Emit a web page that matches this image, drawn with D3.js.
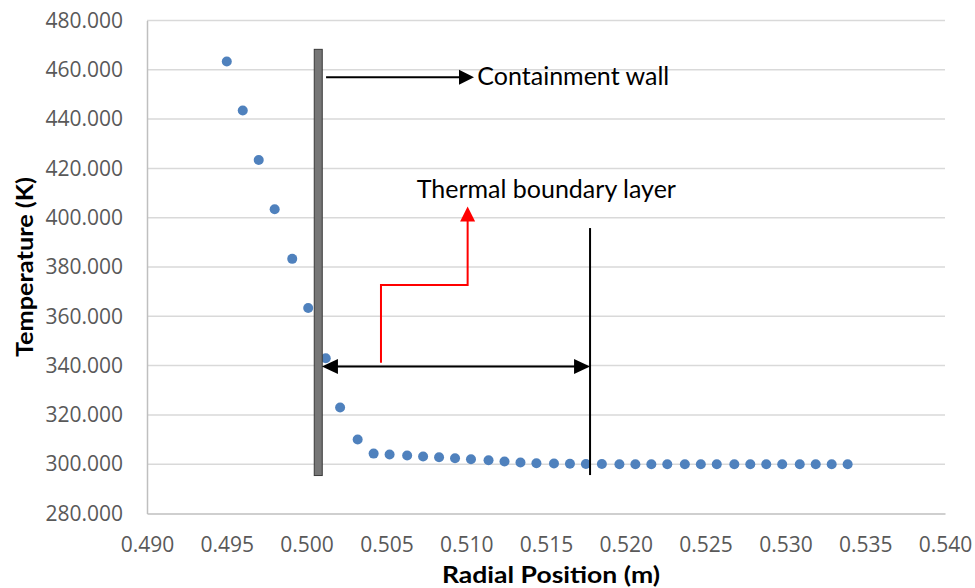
<!DOCTYPE html>
<html>
<head>
<meta charset="utf-8">
<script src="https://cdn.jsdelivr.net/npm/d3@7"></script>
<style>
  html, body { margin: 0; padding: 0; background: #fff; }
  svg { display: block; }
</style>
</head>
<body>
<svg id="chart" width="975" height="588"></svg>
<script>
// ---- data ----
const radialPosition = [
  0.4950, 0.4960, 0.4970, 0.4980, 0.4991, 0.5001, 0.5012, 0.5021, 0.5032, 0.5042,
  0.5052, 0.5063, 0.5073, 0.5083, 0.5093, 0.5103, 0.5114, 0.5124, 0.5134, 0.5144,
  0.5155, 0.5165, 0.5175, 0.5185, 0.5196, 0.5206, 0.5216, 0.5226, 0.5237, 0.5247,
  0.5257, 0.5268, 0.5278, 0.5288, 0.5298, 0.5309, 0.5319, 0.5329, 0.5339
];
const temperature = [
  463.4, 443.5, 423.4, 403.4, 383.3, 363.4, 343.0, 323.0, 310.0, 304.3,
  303.9, 303.5, 303.1, 302.8, 302.4, 302.0, 301.6, 301.1, 300.7, 300.4,
  300.3, 300.2, 300.1, 300.1, 300.0, 300.0, 300.0, 300.0, 300.0, 300.0,
  300.0, 300.0, 300.0, 300.0, 300.0, 300.0, 300.0, 300.0, 300.0
];
const xTicks = [0.490, 0.495, 0.500, 0.505, 0.510, 0.515, 0.520, 0.525, 0.530, 0.535, 0.540];
const yTicks = [280, 300, 320, 340, 360, 380, 400, 420, 440, 460, 480];
const xTitle = "Radial Position (m)";
const yTitle = "Temperature (K)";

// annotations (data units)
const wall = { x: 0.50073, top: 468.3, bottom: 295.4 };
const layerEdge = { x: 0.51776, top: 395.8, bottom: 295.6 };
const spanArrow = { x0: 0.50096, x1: 0.51776, y: 339.6 };
const wallArrow = { x0: 0.50122, x1: 0.51049, y: 457.0 };
const redArrow = [ [0.50466, 341.2], [0.50466, 372.7], [0.51009, 372.7], [0.51009, 404.5] ];
const labels = [
  { text: "Containment wall", x: 0.51070, y: 453.8 },
  { text: "Thermal boundary layer", x: 0.50690, y: 407.9 }
];

// ---- chart ----
const svg = d3.select("#chart");
const x = d3.scaleLinear().domain([0.490, 0.540]).range([147, 945]);
const y = d3.scaleLinear().domain([280, 480]).range([513.5, 20.5]);

// gridlines
svg.append("g").selectAll("line").data(yTicks.filter(d => d !== 280)).join("line")
  .attr("x1", x(0.490)).attr("x2", x(0.540))
  .attr("y1", d => y(d)).attr("y2", d => y(d))
  .attr("stroke", "#d9d9d9").attr("stroke-width", 1.5);

// axes
const xAxis = svg.append("g").attr("transform", `translate(0,${y(280)})`)
  .call(d3.axisBottom(x).tickValues(xTicks).tickFormat(d3.format(".3f")).tickSize(0).tickPadding(24));
const yAxis = svg.append("g").attr("transform", `translate(${x(0.490)},0)`)
  .call(d3.axisLeft(y).tickValues(yTicks).tickFormat(d3.format(".3f")).tickSize(0).tickPadding(24));
[xAxis, yAxis].forEach(g => {
  g.select(".domain").attr("stroke", "#bfbfbf").attr("stroke-width", 1.5);
  g.selectAll("text").attr("fill", "#595959")
    .style("font-family", "'Open Sans', sans-serif").style("font-size", "21px");
});
xAxis.selectAll("text").attr("dy", "0.71em");

// axis titles
svg.append("text").attr("x", 551).attr("y", 583)
  .attr("text-anchor", "middle")
  .attr("textLength", 218).attr("lengthAdjust", "spacingAndGlyphs")
  .style("font-family", "Lato, sans-serif").style("font-weight", "bold").style("font-size", "23px")
  .attr("fill", "#000").text(xTitle);
svg.append("text").attr("transform", `translate(33,${(y(280) + y(480)) / 2}) rotate(-90)`)
  .attr("text-anchor", "middle")
  .attr("textLength", 180).attr("lengthAdjust", "spacingAndGlyphs")
  .style("font-family", "Lato, sans-serif").style("font-weight", "bold").style("font-size", "23px")
  .attr("fill", "#000").text(yTitle);

// data points
svg.append("g").selectAll("circle").data(radialPosition.map((r, i) => [r, temperature[i]])).join("circle")
  .attr("cx", d => x(d[0])).attr("cy", d => y(d[1])).attr("r", 5)
  .attr("fill", "#4f81bd");

// wall
svg.append("rect")
  .attr("x", x(wall.x) - 4).attr("width", 8)
  .attr("y", y(wall.top)).attr("height", y(wall.bottom) - y(wall.top))
  .attr("fill", "#767676").attr("stroke", "#3a3a3a").attr("stroke-width", 1);

// boundary layer edge line
svg.append("line")
  .attr("x1", x(layerEdge.x)).attr("x2", x(layerEdge.x))
  .attr("y1", y(layerEdge.top)).attr("y2", y(layerEdge.bottom))
  .attr("stroke", "#000").attr("stroke-width", 2);

// double arrow
const sy = y(spanArrow.y), sx0 = x(spanArrow.x0), sx1 = x(spanArrow.x1);
svg.append("line").attr("x1", sx0 + 8).attr("x2", sx1 - 8).attr("y1", sy).attr("y2", sy)
  .attr("stroke", "#000").attr("stroke-width", 2);
svg.append("path").attr("d", `M${sx0},${sy} L${sx0 + 16},${sy - 7.5} L${sx0 + 16},${sy + 7.5} Z`).attr("fill", "#000");
svg.append("path").attr("d", `M${sx1},${sy} L${sx1 - 16},${sy - 7.5} L${sx1 - 16},${sy + 7.5} Z`).attr("fill", "#000");

// containment wall arrow
const wy = y(wallArrow.y), wx0 = x(wallArrow.x0), wx1 = x(wallArrow.x1);
svg.append("line").attr("x1", wx0).attr("x2", wx1 - 8).attr("y1", wy).attr("y2", wy)
  .attr("stroke", "#000").attr("stroke-width", 2);
svg.append("path").attr("d", `M${wx1},${wy} L${wx1 - 15},${wy - 7.5} L${wx1 - 15},${wy + 7.5} Z`).attr("fill", "#000");

// red elbow arrow
const rp = redArrow.map(d => [x(d[0]), y(d[1])]);
const tip = rp[rp.length - 1];
const rpLine = rp.slice(0, -1).concat([[tip[0], tip[1] + 10]]);
svg.append("path").attr("d", d3.line()(rpLine))
  .attr("fill", "none").attr("stroke", "#ff0000").attr("stroke-width", 2);
svg.append("path").attr("d", `M${tip[0]},${tip[1]} L${tip[0] - 7.5},${tip[1] + 15} L${tip[0] + 7.5},${tip[1] + 15} Z`).attr("fill", "#ff0000");

// annotation labels
svg.append("g").selectAll("text").data(labels).join("text")
  .attr("x", d => x(d.x)).attr("y", d => y(d.y))
  .style("font-family", "Lato, sans-serif").style("font-size", "25px")
  .attr("fill", "#000").text(d => d.text);
</script>
</body>
</html>
